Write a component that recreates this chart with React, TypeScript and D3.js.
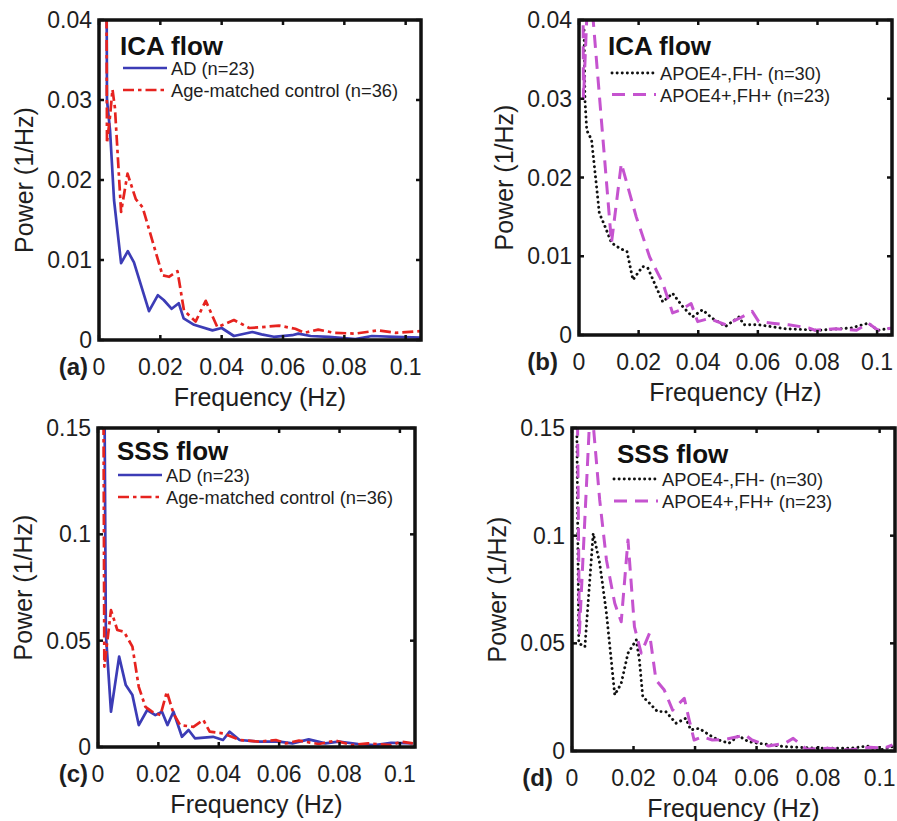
import React from 'react';
import * as d3 from 'd3';

// ---------------- DATA ----------------
const X_TICKS = [0, 0.02, 0.04, 0.06, 0.08, 0.1];
const X_TICK_LABELS = ['0', '0.02', '0.04', '0.06', '0.08', '0.1'];
const ICA_Y_TICKS = [0, 0.01, 0.02, 0.03, 0.04];
const ICA_Y_TICK_LABELS = ['0', '0.01', '0.02', '0.03', '0.04'];
const SSS_Y_TICKS = [0, 0.05, 0.1, 0.15];
const SSS_Y_TICK_LABELS = ['0', '0.05', '0.1', '0.15'];

// (a) ICA flow, AD vs control
const icaAdFreq = [0.0018, 0.0026, 0.0036, 0.0049, 0.0072, 0.0094, 0.0114, 0.0163, 0.0192, 0.0211, 0.0237, 0.0260, 0.0276, 0.0310, 0.0370, 0.0400, 0.0440, 0.0500, 0.0530, 0.0570, 0.0630, 0.0650, 0.0690, 0.0750, 0.0836, 0.0890, 0.0966, 0.1050];
const icaAdPower = [0.120, 0.0300, 0.0262, 0.0175, 0.0096, 0.0111, 0.0097, 0.0036, 0.0056, 0.0050, 0.0039, 0.0046, 0.0027, 0.0019, 0.0012, 0.0015, 0.0005, 0.0010, 0.0007, 0.0004, 0.0006, 0.0008, 0.0005, 0.0004, 0.0001, 0.0005, 0.0004, 0.0003];
const icaCtrlFreq = [0.0016, 0.0026, 0.0036, 0.0044, 0.0052, 0.0072, 0.0093, 0.0120, 0.0142, 0.0207, 0.0228, 0.0256, 0.0277, 0.0315, 0.0348, 0.0386, 0.0440, 0.0490, 0.0530, 0.0587, 0.0640, 0.0670, 0.0715, 0.0767, 0.0836, 0.0910, 0.0967, 0.1050];
const icaCtrlPower = [0.150, 0.0246, 0.0280, 0.0313, 0.0290, 0.0160, 0.0208, 0.0176, 0.0166, 0.0081, 0.0079, 0.0086, 0.0037, 0.0023, 0.0049, 0.0016, 0.0025, 0.0015, 0.0016, 0.0018, 0.0014, 0.0009, 0.0013, 0.0009, 0.0008, 0.0012, 0.0009, 0.0011];

// (b) ICA flow, APOE4-,FH- vs APOE4+,FH+
const icaNegFreq = [0.0017, 0.0020, 0.0026, 0.0042, 0.0059, 0.0068, 0.0087, 0.0109, 0.0137, 0.0161, 0.0181, 0.0198, 0.0214, 0.0231, 0.0253, 0.0281, 0.0314, 0.0348, 0.0381, 0.0414, 0.0448, 0.0492, 0.0537, 0.0553, 0.0603, 0.0692, 0.0803, 0.0914, 0.0970, 0.1003, 0.1050];
const icaNegPower = [0.0387, 0.0298, 0.0260, 0.0248, 0.0188, 0.0155, 0.0138, 0.0117, 0.0110, 0.0106, 0.0070, 0.0079, 0.0087, 0.0085, 0.0066, 0.0042, 0.0053, 0.0036, 0.0023, 0.0032, 0.0021, 0.0011, 0.0023, 0.0013, 0.0013, 0.0008, 0.0006, 0.0009, 0.0015, 0.0006, 0.0009];
const icaPosFreq = [0.0008, 0.0015, 0.0033, 0.0109, 0.0142, 0.0192, 0.0237, 0.0281, 0.0314, 0.0342, 0.0376, 0.0398, 0.0437, 0.0492, 0.0537, 0.0581, 0.0603, 0.0648, 0.0703, 0.0770, 0.0792, 0.0859, 0.0931, 0.0970, 0.1003, 0.1050];
const icaPosPower = [0.0900, 0.0300, 0.0467, 0.0117, 0.0218, 0.0150, 0.0099, 0.0066, 0.0028, 0.0032, 0.0040, 0.0017, 0.0021, 0.0013, 0.0021, 0.0030, 0.0017, 0.0015, 0.0013, 0.0009, 0.0006, 0.0008, 0.0006, 0.0015, 0.0006, 0.0009];

// (c) SSS flow, AD vs control
const sssAdFreq = [0.0016, 0.0026, 0.0043, 0.0070, 0.0092, 0.0114, 0.0135, 0.0163, 0.0190, 0.0212, 0.0230, 0.0250, 0.0278, 0.0300, 0.0321, 0.0381, 0.0414, 0.0436, 0.0469, 0.0534, 0.0600, 0.0644, 0.0698, 0.0753, 0.0797, 0.0862, 0.0917, 0.0971, 0.1043];
const sssAdPower = [0.300, 0.0534, 0.0166, 0.0425, 0.0291, 0.0244, 0.0103, 0.0174, 0.0150, 0.0166, 0.0103, 0.0166, 0.0048, 0.0080, 0.0041, 0.0048, 0.0033, 0.0072, 0.0033, 0.0025, 0.0025, 0.0017, 0.0036, 0.0017, 0.0025, 0.0014, 0.0009, 0.0020, 0.0017];
const sssCtrlFreq = [0.0015, 0.0021, 0.0043, 0.0064, 0.0086, 0.0114, 0.0135, 0.0157, 0.0179, 0.0207, 0.0228, 0.0250, 0.0272, 0.0316, 0.0349, 0.0370, 0.0414, 0.0469, 0.0534, 0.0589, 0.0622, 0.0666, 0.0731, 0.0786, 0.0840, 0.0895, 0.0971, 0.1004, 0.1043];
const sssCtrlPower = [0.300, 0.0378, 0.0644, 0.0550, 0.0542, 0.0472, 0.0283, 0.0189, 0.0166, 0.0150, 0.0260, 0.0158, 0.0103, 0.0095, 0.0127, 0.0072, 0.0064, 0.0033, 0.0025, 0.0033, 0.0017, 0.0030, 0.0014, 0.0030, 0.0009, 0.0017, 0.0009, 0.0025, 0.0017];

// (d) SSS flow, APOE4-,FH- vs APOE4+,FH+
const sssNegFreq = [0.0016, 0.0022, 0.0042, 0.0069, 0.0090, 0.0112, 0.0139, 0.0160, 0.0182, 0.0209, 0.0219, 0.0230, 0.0252, 0.0278, 0.0305, 0.0338, 0.0370, 0.0386, 0.0413, 0.0456, 0.0477, 0.0510, 0.0542, 0.0574, 0.0606, 0.0693, 0.0800, 0.0907, 0.0961, 0.0994, 0.1042];
const sssNegPower = [0.146, 0.0500, 0.0484, 0.1011, 0.0872, 0.0640, 0.0260, 0.0314, 0.0454, 0.0516, 0.0423, 0.0252, 0.0222, 0.0183, 0.0183, 0.0129, 0.0152, 0.0098, 0.0105, 0.0066, 0.0051, 0.0036, 0.0070, 0.0043, 0.0036, 0.0020, 0.0013, 0.0013, 0.0023, 0.0002, 0.0020];
const sssPosFreq = [0.0012, 0.0024, 0.0061, 0.0090, 0.0112, 0.0139, 0.0160, 0.0182, 0.0203, 0.0225, 0.0252, 0.0273, 0.0300, 0.0327, 0.0365, 0.0381, 0.0397, 0.0424, 0.0456, 0.0499, 0.0515, 0.0564, 0.0585, 0.0639, 0.0693, 0.0719, 0.0762, 0.0832, 0.0902, 0.0967, 0.1015, 0.1042];
const sssPosPower = [0.250, 0.0547, 0.1650, 0.1166, 0.0887, 0.0686, 0.0600, 0.0980, 0.0577, 0.0454, 0.0547, 0.0330, 0.0283, 0.0190, 0.0245, 0.0144, 0.0051, 0.0066, 0.0051, 0.0054, 0.0059, 0.0074, 0.0051, 0.0023, 0.0036, 0.0059, 0.0008, 0.0013, 0.0005, 0.0017, 0.0013, 0.0028];

// ---------------- STYLES ----------------
const FONT = "'Liberation Sans', Arial, Helvetica, sans-serif";
const TEXT = '#1e1e1e';
const STYLE_AD = { color: '#3c3cb6', width: 2.7, dash: undefined as string | undefined, cap: 'butt' };
const STYLE_CTRL = { color: '#e6231f', width: 2.7, dash: '11,4,3.5,4', cap: 'butt' };
const STYLE_NEG = { color: '#111111', width: 2.9, dash: '0.1,5', cap: 'round' };
const STYLE_POS = { color: '#c553cf', width: 3, dash: '13,8', cap: 'butt' };

type Style = typeof STYLE_AD;
type Series = { label: string; freq: number[]; power: number[]; style: Style };
type PanelCfg = {
  id: string;
  letter: string;
  left: number; right: number; top: number; bottom: number;
  yMax: number; yTicks: number[]; yTickLabels: string[];
  title: string;
  titleX: number; titleY: number;
  legX: number; legY: number; legDy: number;
  letterRight: number;
  series: Series[];
};

const X_MAX = 0.105;

const panels: PanelCfg[] = [
  {
    id: 'a', letter: '(a)', left: 99, right: 421, top: 20, bottom: 340,
    yMax: 0.04, yTicks: ICA_Y_TICKS, yTickLabels: ICA_Y_TICK_LABELS,
    title: 'ICA flow', titleX: 120, titleY: 55,
    legX: 123, legY: 68, legDy: 22, letterRight: 88,
    series: [
      { label: 'AD (n=23)', freq: icaAdFreq, power: icaAdPower, style: STYLE_AD },
      { label: 'Age-matched control (n=36)', freq: icaCtrlFreq, power: icaCtrlPower, style: STYLE_CTRL },
    ],
  },
  {
    id: 'b', letter: '(b)', left: 579, right: 892, top: 20, bottom: 335,
    yMax: 0.04, yTicks: ICA_Y_TICKS, yTickLabels: ICA_Y_TICK_LABELS,
    title: 'ICA flow', titleX: 608, titleY: 55,
    legX: 612, legY: 73, legDy: 21.5, letterRight: 558,
    series: [
      { label: 'APOE4-,FH- (n=30)', freq: icaNegFreq, power: icaNegPower, style: STYLE_NEG },
      { label: 'APOE4+,FH+ (n=23)', freq: icaPosFreq, power: icaPosPower, style: STYLE_POS },
    ],
  },
  {
    id: 'c', letter: '(c)', left: 98, right: 415, top: 428, bottom: 747,
    yMax: 0.15, yTicks: SSS_Y_TICKS, yTickLabels: SSS_Y_TICK_LABELS,
    title: 'SSS flow', titleX: 117, titleY: 460,
    legX: 118, legY: 475, legDy: 22, letterRight: 88,
    series: [
      { label: 'AD (n=23)', freq: sssAdFreq, power: sssAdPower, style: STYLE_AD },
      { label: 'Age-matched control (n=36)', freq: sssCtrlFreq, power: sssCtrlPower, style: STYLE_CTRL },
    ],
  },
  {
    id: 'd', letter: '(d)', left: 572, right: 895, top: 428, bottom: 751,
    yMax: 0.15, yTicks: SSS_Y_TICKS, yTickLabels: SSS_Y_TICK_LABELS,
    title: 'SSS flow', titleX: 617, titleY: 463,
    legX: 614, legY: 479, legDy: 22, letterRight: 553,
    series: [
      { label: 'APOE4-,FH- (n=30)', freq: sssNegFreq, power: sssNegPower, style: STYLE_NEG },
      { label: 'APOE4+,FH+ (n=23)', freq: sssPosFreq, power: sssPosPower, style: STYLE_POS },
    ],
  },
];

function Panel({ cfg }: { cfg: PanelCfg }) {
  const x = d3.scaleLinear().domain([0, X_MAX]).range([cfg.left, cfg.right]);
  const y = d3.scaleLinear().domain([0, cfg.yMax]).range([cfg.bottom, cfg.top]);
  const line = d3
    .line<[number, number]>()
    .x((d) => x(d[0]))
    .y((d) => y(d[1]));
  const clipId = `clip-${cfg.id}`;
  const w = cfg.right - cfg.left;
  const h = cfg.bottom - cfg.top;
  const tickLen = 5;
  const midX = (cfg.left + cfg.right) / 2;
  const midY = (cfg.top + cfg.bottom) / 2;

  return (
    <g>
      <defs>
        <clipPath id={clipId}>
          <rect x={cfg.left} y={cfg.top} width={w} height={h} />
        </clipPath>
      </defs>
      <rect x={cfg.left} y={cfg.top} width={w} height={h} fill="#fff" />
      {/* series */}
      <g clipPath={`url(#${clipId})`}>
        {cfg.series.map((s, i) => {
          const pts = s.freq.map((f, k) => [f, s.power[k]] as [number, number]);
          return (
            <path
              key={i}
              d={line(pts) || ''}
              fill="none"
              stroke={s.style.color}
              strokeWidth={s.style.width}
              strokeDasharray={s.style.dash}
              strokeLinecap={s.style.cap as any}
              strokeLinejoin="round"
            />
          );
        })}
      </g>
      {/* ticks */}
      {X_TICKS.map((t, i) => (
        <g key={'xt' + i}>
          <line x1={x(t)} x2={x(t)} y1={cfg.bottom} y2={cfg.bottom - tickLen} stroke="#111" strokeWidth={2.5} />
          <line x1={x(t)} x2={x(t)} y1={cfg.top} y2={cfg.top + tickLen} stroke="#111" strokeWidth={2.5} />
          <text x={x(t)} y={cfg.bottom + 35} textAnchor="middle" fontSize={23} fontFamily={FONT} fill={TEXT}>
            {X_TICK_LABELS[i]}
          </text>
        </g>
      ))}
      {cfg.yTicks.map((t, i) => (
        <g key={'yt' + i}>
          <line x1={cfg.left} x2={cfg.left + tickLen} y1={y(t)} y2={y(t)} stroke="#111" strokeWidth={2.5} />
          <line x1={cfg.right} x2={cfg.right - tickLen} y1={y(t)} y2={y(t)} stroke="#111" strokeWidth={2.5} />
          <text x={cfg.left - 7} y={y(t) + 8} textAnchor="end" fontSize={23} fontFamily={FONT} fill={TEXT}>
            {cfg.yTickLabels[i]}
          </text>
        </g>
      ))}
      {/* frame */}
      <rect x={cfg.left} y={cfg.top} width={w} height={h} fill="none" stroke="#111" strokeWidth={3.5} />
      {/* axis labels */}
      <text x={midX} y={cfg.bottom + 66} textAnchor="middle" fontSize={25} fontFamily={FONT} fill={TEXT}>
        Frequency (Hz)
      </text>
      <text
        transform={`translate(${cfg.left - 66},${midY}) rotate(-90)`}
        textAnchor="middle"
        fontSize={25}
        fontFamily={FONT}
        fill={TEXT}
      >
        Power (1/Hz)
      </text>
      <text x={cfg.letterRight} y={cfg.bottom + 35} textAnchor="end" fontSize={24} fontWeight="bold" fontFamily={FONT} fill={TEXT}>
        {cfg.letter}
      </text>
      {/* title */}
      <text x={cfg.titleX} y={cfg.titleY} fontSize={26} fontWeight="bold" fontFamily={FONT} fill="#111">
        {cfg.title}
      </text>
      {/* legend */}
      {cfg.series.map((s, i) => {
        const ly = cfg.legY + i * cfg.legDy;
        return (
          <g key={'lg' + i}>
            <line
              x1={cfg.legX}
              x2={cfg.legX + 44}
              y1={ly}
              y2={ly}
              stroke={s.style.color}
              strokeWidth={s.style.width}
              strokeDasharray={s.style.dash}
              strokeLinecap={s.style.cap as any}
            />
            <text x={cfg.legX + 48} y={ly + 7} fontSize={18.3} fontFamily={FONT} fill={TEXT}>
              {s.label}
            </text>
          </g>
        );
      })}
    </g>
  );
}

export default function App() {
  return (
    <svg
      width={897}
      height={821}
      viewBox="0 0 897 821"
      style={{ position: 'absolute', left: 0, top: 0, background: '#fff' }}
    >
      <rect x={0} y={0} width={897} height={821} fill="#fff" />
      {panels.map((p) => (
        <Panel key={p.id} cfg={p} />
      ))}
    </svg>
  );
}
